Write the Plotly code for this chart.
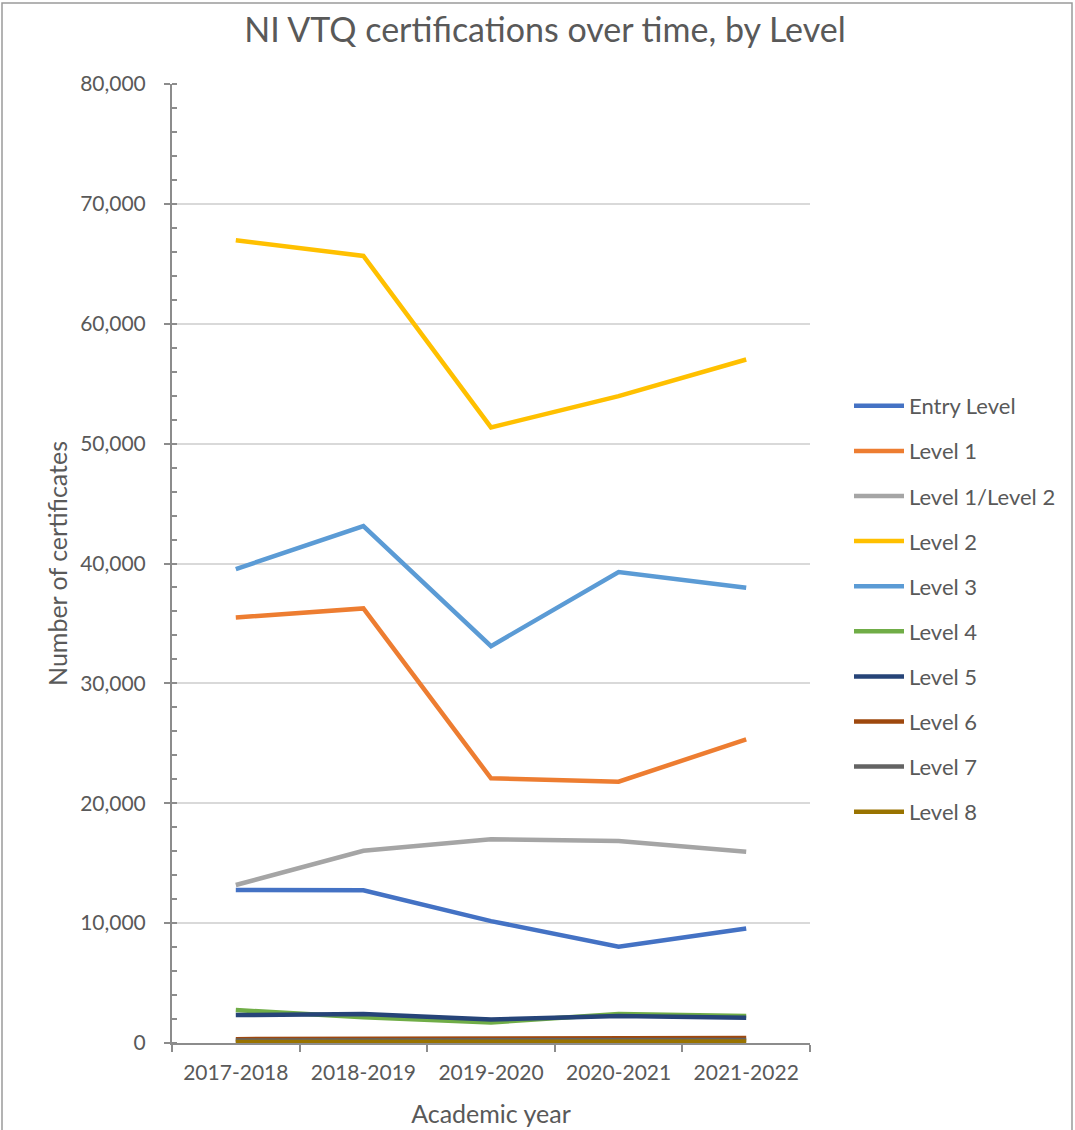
import plotly.graph_objects as go

years = ["2017-2018", "2018-2019", "2019-2020", "2020-2021", "2021-2022"]

entry_level = [12760, 12740, 10170, 8030, 9560]
level_1 = [35500, 36250, 22080, 21800, 25330]
level_1_2 = [13180, 16040, 16990, 16850, 15960]
level_2 = [66970, 65660, 51350, 53960, 57020]
level_3 = [39530, 43120, 33110, 39280, 37970]
level_4 = [2750, 2140, 1720, 2420, 2250]
level_5 = [2330, 2420, 1970, 2250, 2110]
level_6 = [320, 330, 330, 360, 420]
level_7 = [200, 210, 210, 230, 260]
level_8 = [90, 100, 100, 110, 120]

series_names = ["Entry Level", "Level 1", "Level 1/Level 2", "Level 2", "Level 3",
                "Level 4", "Level 5", "Level 6", "Level 7", "Level 8"]
series_values = [entry_level, level_1, level_1_2, level_2, level_3,
                 level_4, level_5, level_6, level_7, level_8]
series_colors = ["#4472C4", "#ED7D31", "#A5A5A5", "#FFC000", "#5B9BD5",
                 "#70AD47", "#264478", "#9E480E", "#636363", "#997300"]

TEXT = "#595959"
FONT = "Lato"

fig = go.Figure()
for name, vals, col in zip(series_names, series_values, series_colors):
    fig.add_trace(go.Scatter(
        x=years, y=vals, name=name, mode="lines",
        line=dict(color=col, width=4.5),
        legendgroup=name,
    ))

# plot area: x 172..810, y 84..1043 in a 1075x1130 page
L, R, T, B = 172, 265, 84, 87
W, H = 1075, 1130
pw, ph = W - L - R, H - T - B

def px_x(p):
    return (p - L) / pw

def px_y(p):
    return (H - B - p) / ph

fig.update_layout(
    width=W, height=H,
    margin=dict(l=L, r=R, t=T, b=B, autoexpand=False),
    paper_bgcolor="white", plot_bgcolor="white",
    font=dict(family=FONT, color=TEXT, size=21),
    title=dict(text="NI VTQ certifications over time, by Level",
               x=0.507, xanchor="center", y=1 - 30 / H, yanchor="middle",
               font=dict(size=34, color=TEXT, family=FONT)),
    showlegend=True,
    legend=dict(x=px_x(849), xanchor="left", y=px_y(385), yanchor="top",
                font=dict(size=22, color=TEXT, family=FONT),
                tracegroupgap=13.5, traceorder="grouped",
                itemwidth=50, bgcolor="rgba(0,0,0,0)"),
    xaxis=dict(
        type="category", range=[-0.5, 4.5], automargin=False,
        showline=True, linecolor="#8c8c8c", linewidth=2,
        ticks="outside", ticklen=7, tickcolor="#8c8c8c", tickwidth=2,
        tickson="boundaries", showgrid=False, zeroline=False,
        tickfont=dict(size=21, color=TEXT, family=FONT),
        ticklabelstandoff=10,
        title=dict(text="Academic year", font=dict(size=25, color=TEXT, family=FONT),
                   standoff=22),
    ),
    yaxis=dict(
        range=[0, 80000], dtick=10000, tickformat=",", automargin=False,
        showline=True, linecolor="#8c8c8c", linewidth=2,
        ticks="outside", ticklen=6, tickcolor="#8c8c8c", tickwidth=2,
        showgrid=True, gridcolor="#d9d9d9", gridwidth=1.5, zeroline=False,
        minor=dict(dtick=2000, ticks="inside", ticklen=5, tickcolor="#8c8c8c",
                   tickwidth=1.5, showgrid=False),
        tickfont=dict(size=21, color=TEXT, family=FONT),
        ticklabelstandoff=14,
        title=dict(text="Number of certificates", font=dict(size=25, color=TEXT, family=FONT),
                   standoff=5),
    ),
    shapes=[dict(type="rect", xref="paper", yref="paper",
                 x0=px_x(2), x1=px_x(1072), y0=px_y(1140), y1=px_y(3),
                 line=dict(color="#9a9a9a", width=1.5), fillcolor="rgba(0,0,0,0)",
                 layer="below")],
)

fig.write_html("out.html")
